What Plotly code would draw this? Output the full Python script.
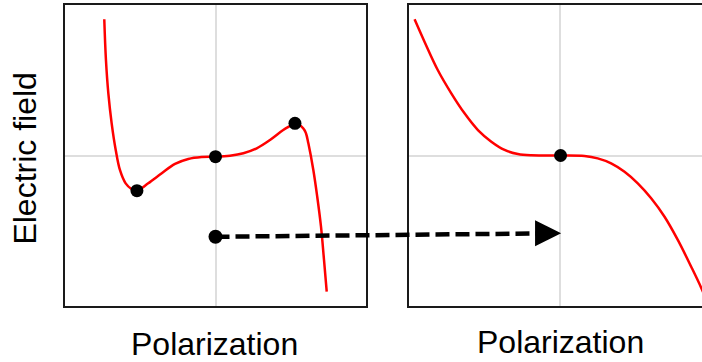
import plotly.graph_objects as go

# ---- data -------------------------------------------------------------
# Left panel: E(P) curve with two stationary points (unstable state)
P_LEFT = [-0.739, -0.728, -0.712, -0.690, -0.663, -0.635, -0.597, -0.557,
          -0.522, -0.447, -0.357, -0.269, -0.181, -0.092, 0.0,
          0.096, 0.185, 0.274, 0.362, 0.450, 0.495, 0.528, 0.583, 0.601,
          0.617, 0.650, 0.676, 0.701, 0.721, 0.739]
E_LEFT = [0.905, 0.635, 0.413, 0.214, 0.037, -0.096, -0.185, -0.223,
          -0.234, -0.185, -0.118, -0.056, -0.023, -0.010, -0.008,
          -0.001, 0.015, 0.048, 0.103, 0.169, 0.196, 0.214, 0.181, 0.148,
          0.081, -0.096, -0.274, -0.473, -0.694, -0.905]
P_LEFT_PTS = [-0.522, 0.0, 0.528]
E_LEFT_PTS = [-0.234, -0.008, 0.214]

# Right panel: monotonic E(P) curve with a flat inflection at the origin
P_RIGHT = [-0.963, -0.897, -0.809, -0.719, -0.631, -0.542, -0.453, -0.365,
           -0.277, -0.188, -0.100, 0.0, 0.166, 0.254, 0.343, 0.432,
           0.520, 0.609, 0.698, 0.786, 0.875, 0.942, 1.000]
E_RIGHT = [0.905, 0.756, 0.568, 0.413, 0.280, 0.169, 0.092, 0.037,
           0.010, 0.001, 0.0, 0.0, -0.003, -0.019, -0.052, -0.108,
           -0.185, -0.284, -0.407, -0.561, -0.739, -0.880, -1.020]
P_RIGHT_PTS = [0.007]
E_RIGHT_PTS = [0.0]

# Transition arrow: from the left panel origin state to the right panel state
ARROW_START = (0.0, -0.540)   # left panel (P, E)
ARROW_END = (0.011, -0.517)   # right panel (P, E)

X_LABEL = "Polarization"
Y_LABEL = "Electric field"

# ---- geometry ---------------------------------------------------------
W, H = 702, 362
M_L, M_R, M_T, M_B = 65, 0, 5, 56
PLOT_W = W - M_L - M_R
PLOT_H = H - M_T - M_B
PANEL_PX = 301            # panel width in px
GAP_PX = 43               # gap between the two panels
UNIT = PANEL_PX / 2.0     # px per data unit

left_dom = [0.0, PANEL_PX / PLOT_W]
right_dom = [(PANEL_PX + GAP_PX) / PLOT_W, 1.0]
left_rng = [-1.0, 1.0]
right_rng = [-1.0, -1.0 + (PLOT_W - PANEL_PX - GAP_PX) / UNIT]
over_rng = [-1.0, -1.0 + PLOT_W / UNIT]
# shift that maps right-panel P onto the full-width overlay axis
RIGHT_SHIFT = (right_dom[0] - left_dom[0]) * PLOT_W / UNIT + (right_rng[0] - left_rng[0])

RED = "#ff0000"
FRAME = "#1a1a1a"
GRID = "#dedede"
FONT = "Liberation Sans, Arial, sans-serif"

fig = go.Figure()

fig.add_trace(go.Scatter(x=P_LEFT, y=E_LEFT, mode="lines",
                         line=dict(color=RED, width=2.5, shape="spline", smoothing=1.0),
                         xaxis="x", yaxis="y", hoverinfo="skip"))
fig.add_trace(go.Scatter(x=P_LEFT_PTS, y=E_LEFT_PTS, mode="markers",
                         marker=dict(color="black", size=13),
                         xaxis="x", yaxis="y", hoverinfo="skip"))
fig.add_trace(go.Scatter(x=P_RIGHT, y=E_RIGHT, mode="lines",
                         line=dict(color=RED, width=2.5, shape="spline", smoothing=1.0),
                         xaxis="x2", yaxis="y2", hoverinfo="skip"))
fig.add_trace(go.Scatter(x=P_RIGHT_PTS, y=E_RIGHT_PTS, mode="markers",
                         marker=dict(color="black", size=13),
                         xaxis="x2", yaxis="y2", hoverinfo="skip"))

# dashed arrow shaft on a full-width overlay axis sharing the P/E scale
x_start = ARROW_START[0]
x_end = ARROW_END[0] + RIGHT_SHIFT - 0.06
fig.add_trace(go.Scatter(x=[x_start, x_end], y=[ARROW_START[1], ARROW_END[1]],
                         mode="lines", line=dict(color="black", width=4.5, dash="14px,6px"),
                         xaxis="x3", yaxis="y3", hoverinfo="skip"))
fig.add_trace(go.Scatter(x=[x_start], y=[ARROW_START[1]], mode="markers",
                         marker=dict(color="black", size=14),
                         xaxis="x3", yaxis="y3", hoverinfo="skip"))

# arrow head
fig.add_annotation(x=ARROW_END[0], y=ARROW_END[1], xref="x2", yref="y2",
                   text="", showarrow=True, axref="pixel", ayref="pixel",
                   ax=-24, ay=0, arrowhead=2, arrowsize=1.16, arrowwidth=4.5,
                   arrowcolor="black")


def xp(px):
    return (px - M_L) / PLOT_W


def yp(py):
    return (M_T + PLOT_H - py) / PLOT_H


label_font = dict(family=FONT, size=32, color="black")
fig.add_annotation(text=X_LABEL, x=xp(214.7), y=yp(344.2), xref="paper", yref="paper",
                   showarrow=False, xanchor="center", yanchor="middle", font=label_font)
fig.add_annotation(text=X_LABEL, x=xp(560.8), y=yp(342.0), xref="paper", yref="paper",
                   showarrow=False, xanchor="center", yanchor="middle", font=label_font)
fig.add_annotation(text=Y_LABEL, x=xp(25.3), y=yp(158.3), xref="paper", yref="paper",
                   showarrow=False, xanchor="center", yanchor="middle", textangle=-90,
                   font=label_font)

frame_axis = dict(showline=True, linecolor=FRAME, linewidth=2, showgrid=False,
                  zeroline=True, zerolinecolor=GRID, zerolinewidth=1.5,
                  showticklabels=False, ticks="", fixedrange=True)

fig.update_layout(
    width=W, height=H,
    margin=dict(l=M_L, r=M_R, t=M_T, b=M_B, pad=0),
    paper_bgcolor="white", plot_bgcolor="rgba(0,0,0,0)",
    showlegend=False,
    font=dict(family=FONT),
    xaxis=dict(domain=left_dom, range=left_rng, anchor="y", mirror=True, **frame_axis),
    yaxis=dict(domain=[0, 1], range=[-1, 1], anchor="x", mirror=True, **frame_axis),
    xaxis2=dict(domain=right_dom, range=right_rng, anchor="y2", mirror=True, **frame_axis),
    yaxis2=dict(domain=[0, 1], range=[-1, 1], anchor="x2", mirror=False, **frame_axis),
    xaxis3=dict(domain=[0, 1], range=over_rng, anchor="y3", visible=False, fixedrange=True),
    yaxis3=dict(domain=[0, 1], range=[-1, 1], anchor="x3", visible=False, fixedrange=True),
)

fig.write_html("out.html", config={"displayModeBar": False})
